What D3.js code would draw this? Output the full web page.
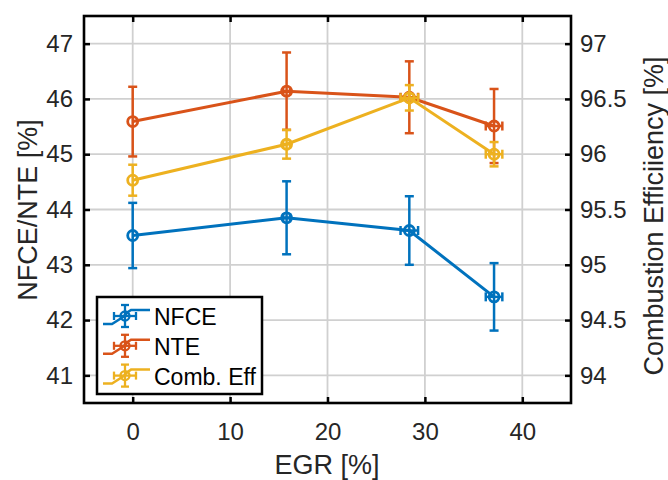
<!DOCTYPE html>
<html><head><meta charset="utf-8">
<script src="https://cdn.jsdelivr.net/npm/d3@7"></script>
<style>body{margin:0;background:#fff}svg{display:block;font-family:"Liberation Sans",Arial,sans-serif}</style>
</head><body><svg id="c" width="668" height="480"></svg>
<script>
const egr = [0, 15.8, 28.4, 37.1];
const egrErr = [0, 0.35, 0.9, 0.85];
const nfce = [43.53, 43.85, 43.62, 42.42];
const nfceErr = [0.59, 0.66, 0.62, 0.61];
const nte = [45.59, 46.14, 46.03, 45.51];
const nteErr = [0.63, 0.70, 0.65, 0.67];
const comb = [95.765, 96.09, 96.51, 96.0];
const combErr = [0.14, 0.13, 0.115, 0.11];
const xTicks = [0, 10, 20, 30, 40];
const yLeftTicks = [41, 42, 43, 44, 45, 46, 47];
const yRightTicks = [94, 94.5, 95, 95.5, 96, 96.5, 97];
const seriesNames = ["NFCE", "NTE", "Comb. Eff"];
const colors = ["#0072BD", "#D95319", "#EDB120"];

const L = 84, R = 571, T = 16, B = 403;
const svg = d3.select("#c");
const x = d3.scaleLinear().domain([-5, 45]).range([L, R]);
const yL = d3.scaleLinear().domain([40.5, 47.5]).range([B, T]);
const yR = d3.scaleLinear().domain([93.75, 97.25]).range([B, T]);

// grid
const g = svg.append("g");
g.selectAll(".gx").data(xTicks).enter().append("line")
  .attr("x1", d => x(d)).attr("x2", d => x(d)).attr("y1", T).attr("y2", B)
  .attr("stroke", "#d0d0d0").attr("stroke-width", 1.8);
g.selectAll(".gy").data(yLeftTicks).enter().append("line")
  .attr("y1", d => yL(d)).attr("y2", d => yL(d)).attr("x1", L).attr("x2", R)
  .attr("stroke", "#d0d0d0").attr("stroke-width", 1.8);

// axes
const fs = "24px";
const axB = svg.append("g").attr("transform", `translate(0,${B})`)
  .call(d3.axisBottom(x).tickValues(xTicks).tickSize(-6).tickPadding(20).tickFormat(d3.format("d")));
const axT = svg.append("g").attr("transform", `translate(0,${T})`)
  .call(d3.axisTop(x).tickValues(xTicks).tickSize(-6).tickFormat(""));
const axL = svg.append("g").attr("transform", `translate(${L},0)`)
  .call(d3.axisLeft(yL).tickValues(yLeftTicks).tickSize(-6).tickPadding(11).tickFormat(d3.format("d")));
const axR = svg.append("g").attr("transform", `translate(${R},0)`)
  .call(d3.axisRight(yR).tickValues(yRightTicks).tickSize(-6).tickPadding(9).tickFormat(d => String(d)));
[axB, axT, axL, axR].forEach(a => {
  a.select(".domain").remove();
  a.selectAll(".tick line").attr("stroke", "#000").attr("stroke-width", 2.5);
  a.selectAll(".tick text").attr("fill", "#262626").style("font-size", fs).style("font-family", '"Liberation Sans",Arial,sans-serif');
});
svg.append("rect").attr("x", L).attr("y", T).attr("width", R - L).attr("height", B - T)
  .attr("fill", "none").attr("stroke", "#000").attr("stroke-width", 2.6);

// labels
svg.append("text").attr("x", 327).attr("y", 474).attr("text-anchor", "middle")
  .style("font-size", "27px").attr("fill", "#262626").text("EGR [%]");
svg.append("text").attr("transform", `translate(37,210) rotate(-90)`).attr("text-anchor", "middle")
  .style("font-size", "27px").attr("fill", "#262626").text("NFCE/NTE [%]");
svg.append("text").attr("transform", `translate(663,216) rotate(-90)`).attr("text-anchor", "middle")
  .style("font-size", "27px").attr("fill", "#262626").text("Combustion Efficiiency [%]");

// series
const series = [
  { vals: nfce, err: nfceErr, y: yL },
  { vals: nte, err: nteErr, y: yL },
  { vals: comb, err: combErr, y: yR }
];
const cap = 4.5;
series.forEach((s, i) => {
  const c = colors[i];
  const pts = egr.map((e, j) => ({ x: e, xe: egrErr[j], v: s.vals[j], ve: s.err[j] }));
  const sg = svg.append("g");
  sg.append("path").datum(pts)
    .attr("d", d3.line().x(d => x(d.x)).y(d => s.y(d.v)))
    .attr("fill", "none").attr("stroke", c).attr("stroke-width", 3);
  pts.forEach(p => {
    const cx = x(p.x), cy = s.y(p.v);
    const y1 = s.y(p.v + p.ve), y2 = s.y(p.v - p.ve);
    sg.append("line").attr("x1", cx).attr("x2", cx).attr("y1", y1).attr("y2", y2).attr("stroke", c).attr("stroke-width", 2.5);
    [y1, y2].forEach(yy => sg.append("line").attr("x1", cx - cap).attr("x2", cx + cap).attr("y1", yy).attr("y2", yy).attr("stroke", c).attr("stroke-width", 2.5));
    if (p.xe > 0) {
      const x1 = x(p.x - p.xe), x2 = x(p.x + p.xe);
      sg.append("line").attr("x1", x1).attr("x2", x2).attr("y1", cy).attr("y2", cy).attr("stroke", c).attr("stroke-width", 2.5);
      [x1, x2].forEach(xx => sg.append("line").attr("x1", xx).attr("x2", xx).attr("y1", cy - cap).attr("y2", cy + cap).attr("stroke", c).attr("stroke-width", 2.5));
    }
    sg.append("circle").attr("cx", cx).attr("cy", cy).attr("r", 5)
      .attr("fill", "none").attr("stroke", c).attr("stroke-width", 2.8);
  });
});

// legend
const lg = svg.append("g");
lg.append("rect").attr("x", 97).attr("y", 297).attr("width", 165).attr("height", 97)
  .attr("fill", "#fff").attr("stroke", "#000").attr("stroke-width", 2.5);
seriesNames.forEach((n, i) => {
  const yy = 316 + i * 29.8, c = colors[i];
  const e = lg.append("g").attr("stroke", c).attr("stroke-width", 2.3).attr("fill", "none");
  e.append("path").attr("d", `M103,${yy + 8} L112,${yy + 8} L123,${yy + 1} L128,${yy - 4} L131,${yy - 6} L150,${yy - 6}`).attr("stroke-width", 2.5);
  const cx = 125, cy = yy;
  e.append("line").attr("x1", cx).attr("x2", cx).attr("y1", cy - 11).attr("y2", cy + 11);
  e.append("line").attr("x1", cx - 11).attr("x2", cx + 11).attr("y1", cy).attr("y2", cy);
  [-11, 11].forEach(o => {
    e.append("line").attr("x1", cx - 4).attr("x2", cx + 4).attr("y1", cy + o).attr("y2", cy + o);
    e.append("line").attr("y1", cy - 4).attr("y2", cy + 4).attr("x1", cx + o).attr("x2", cx + o);
  });
  e.append("circle").attr("cx", cx).attr("cy", cy).attr("r", 4.5);
  lg.append("text").attr("x", 154).attr("y", yy + 9).style("font-size", "23px").attr("fill", "#000").text(n);
});
</script></body></html>
